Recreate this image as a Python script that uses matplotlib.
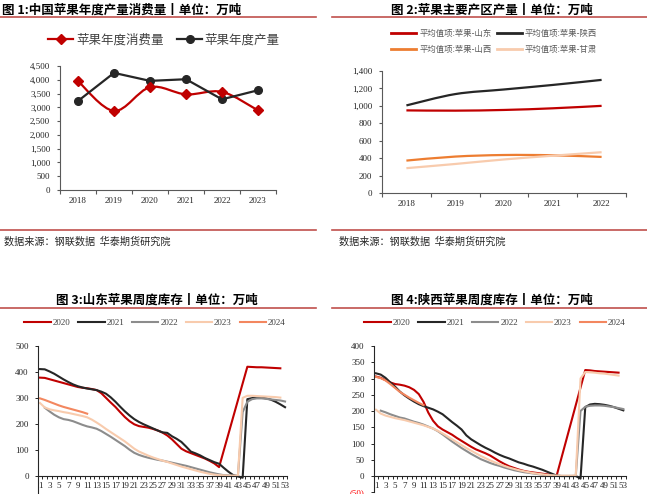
import numpy as np
import matplotlib
matplotlib.use('Agg')
import matplotlib.pyplot as plt
from matplotlib.path import Path
from matplotlib.patches import PathPatch
from matplotlib.lines import Line2D

nan = np.nan

# ---- chart 1: national production / consumption (万吨)
years1 = ['2018', '2019', '2020', '2021', '2022', '2023']
consume = [3950, 2870, 3730, 3470, 3560, 2890]
produce = [3230, 4250, 3960, 4020, 3290, 3620]

# ---- chart 2: main regions
years2 = ['2018', '2019', '2020', '2021', '2022']
shandong = [948, 945, 953, 972, 1000]
shaanxi = [1005, 1135, 1188, 1240, 1298]
shanxi = [372, 418, 436, 433, 414]
gansu = [285, 333, 385, 428, 468]

# ---- chart 3: Shandong weekly stock, weeks 1..53
sd_2020 = [378, 377, 372, 367, 362, 357, 352, 347, 342, 339,
           337, 334, 330, 318, 300, 282, 265, 245, 226, 210,
           198, 191, 188, 185, 180, 174, 166, 155, 140, 122,
           104, 94, 87, 80, 73, 66, 57, 47, 33, nan,
           nan, nan, nan, nan, 420, 419, 418, 418, 417, 416,
           415, 414, nan]
sd_2021 = [411, 410, 402, 393, 382, 371, 361, 352, 345, 340,
           336, 333, 330, 324, 316, 302, 285, 266, 248, 232,
           218, 207, 198, 190, 182, 174, 167, 165, 152, 142,
           130, 112, 93, 86, 78, 68, 60, 52, 46, 30,
           15, 2, -3, -8, 295, 299, 302, 301, 298, 293,
           285, 275, 264]
sd_2022 = [nan, 262, 248, 235, 225, 218, 215, 210, 203, 196,
           190, 186, 181, 172, 161, 150, 138, 126, 114, 100,
           88, 80, 74, 69, 65, 61, 58, 54, 50, 46,
           42, 38, 33, 28, 23, 18, 13, 9, 5, 2,
           1, 0, 0, 245, 285, 295, 298, 298, 296, 294,
           292, 290, 286]
sd_2023 = [280, 263, 256, 252, 249, 245, 242, 238, 234, 230,
           225, 216, 205, 193, 180, 168, 156, 144, 132, 118,
           104, 93, 85, 77, 70, 64, 58, 53, 47, 41,
           35, 30, 25, 20, 15, 11, 7, 4, 2, 1,
           0, 0, 0, 300, 308, 308, 307, 306, 305, 304,
           303, 301, nan]
sd_2024 = [298, 292, 285, 278, 271, 265, 260, 255, 250, 245, 239] + [nan] * 42

# ---- chart 4: Shaanxi weekly stock
sx_2020 = [306, 302, 295, 288, 283, 281, 278, 273, 265, 252,
           228, 195, 170, 153, 143, 135, 127, 117, 108, 99,
           90, 82, 76, 70, 63, 54, 45, 37, 30, 25,
           20, 16, 13, 11, 9, 7, 5, 3, 2, nan,
           nan, nan, nan, nan, 326, 325, 323, 322, 321, 320,
           319, 318, nan]
sx_2021 = [316, 312, 302, 288, 275, 260, 248, 238, 229, 221,
           215, 210, 205, 198, 190, 178, 166, 155, 143, 125,
           113, 104, 95, 87, 80, 72, 65, 59, 54, 48,
           42, 38, 33, 29, 24, 19, 13, 7, 1, 0,
           0, 0, 0, -8, 212, 220, 222, 221, 219, 216,
           212, 207, 202]
sx_2022 = [nan, 201, 196, 190, 185, 180, 177, 172, 167, 163,
           158, 152, 146, 138, 128, 117, 106, 96, 86, 77,
           68, 60, 52, 46, 40, 35, 31, 26, 22, 18,
           15, 12, 10, 8, 6, 4, 3, 2, 1, 0,
           0, 0, 0, 200, 213, 216, 217, 217, 216, 214,
           212, 209, 206]
sx_2023 = [204, 192, 186, 182, 178, 175, 172, 168, 164, 160,
           156, 151, 146, 139, 131, 122, 113, 104, 95, 86,
           78, 70, 62, 55, 48, 42, 36, 31, 26, 22,
           18, 15, 12, 9, 7, 5, 3, 2, 1, 1,
           1, 1, 2, 300, 320, 319, 318, 316, 315, 313,
           311, 309, nan]
sx_2024 = [305, 301, 294, 283, 271, 259, 250, 241, 233, 225, 218] + [nan] * 42

week_labels = ['2020', '2021', '2022', '2023', '2024']

W, H = 647, 494
CJK = 'Noto Sans CJK SC'
SERIF = 'Liberation Serif'
RED = '#C00000'
DARK = '#262626'
GRAY = '#8C8C8C'
PEACH = '#F8CBAD'
ORANGE = '#ED7D31'
SALMON = '#F3875F'
RULE = '#C0504D'
TXT = '#404040'

plt.rcParams['font.family'] = [SERIF, CJK]

fig = plt.figure(figsize=(W / 100, H / 100), dpi=100)


def box(l, t, r, b):
    return fig.add_axes([l / W, 1 - b / H, (r - l) / W, (b - t) / H])


def hline(x0, x1, y):
    fig.add_artist(Line2D([x0 / W, x1 / W], [1 - y / H, 1 - y / H], color=RULE,
                          lw=1.2, transform=fig.transFigure))


def ftext(x, y, s, **kw):
    fig.text(x / W, 1 - y / H, s, **kw)


def smooth_path(x, y):
    # excel-like smoothed line (catmull-rom as bezier)
    pts = np.column_stack([x, y]).astype(float)
    n = len(pts)
    verts = [pts[0]]
    codes = [Path.MOVETO]
    for i in range(n - 1):
        p0 = pts[max(i - 1, 0)]
        p1 = pts[i]
        p2 = pts[i + 1]
        p3 = pts[min(i + 2, n - 1)]
        verts += [p1 + (p2 - p0) / 6, p2 - (p3 - p1) / 6, p2]
        codes += [Path.CURVE4] * 3
    return Path(verts, codes)


def fmt(v):
    return '({:,})'.format(abs(int(v))) if v < 0 else '{:,}'.format(int(v))


def cat_axis(ax, n, ticks):
    ax.set_xlim(-0.5, n - 0.5)
    ax.set_xticks(range(n))
    ax.set_xticks(np.arange(n + 1) - 0.5, minor=True)
    ax.tick_params(axis='x', which='major', length=0, pad=5, labelsize=6.5, labelcolor=DARK)
    ax.tick_params(axis='x', which='minor', length=3, width=0.8, color='#595959', direction='out')
    ax.set_yticks(ticks, labels=[fmt(t) for t in ticks])
    ax.tick_params(axis='y', length=2.5, width=0.8, color='#595959', pad=4.5,
                   labelsize=6.5, labelcolor=DARK)
    for s in ['top', 'right']:
        ax.spines[s].set_visible(False)
    for s in ['left', 'bottom']:
        ax.spines[s].set_color('#595959')
        ax.spines[s].set_linewidth(0.8)


# ================= chart 1
ax1 = box(60, 66, 276, 190)
x1 = np.arange(len(years1))
ax1.add_patch(PathPatch(smooth_path(x1, consume), fill=False, ec=RED, lw=1.6, zorder=3))
ax1.plot(x1, consume, ls='none', marker='D', ms=5, color=RED, zorder=4)
ax1.plot(x1, produce, color=DARK, lw=1.6, marker='o', ms=5.5, zorder=3)
ax1.set_ylim(0, 4500)
cat_axis(ax1, len(years1), range(0, 4501, 500))
ax1.set_xticklabels(years1)
h1 = [Line2D([], [], color=RED, lw=1.6, marker='D', ms=5),
      Line2D([], [], color=DARK, lw=1.6, marker='o', ms=5.5)]
ax1.legend(h1, ['苹果年度消费量', '苹果年度产量'], loc='center',
           bbox_to_anchor=(164 / W, 1 - 40 / H), bbox_transform=fig.transFigure,
           ncol=2, frameon=False, prop={'family': CJK, 'size': 9}, labelcolor=TXT,
           handlelength=2.0, handletextpad=0.2, columnspacing=1.1,
           borderpad=0, borderaxespad=0)

# ================= chart 2
ax2 = box(382, 71, 626, 193)
x2 = np.arange(len(years2))
for vals, col in [(shandong, RED), (shaanxi, DARK), (shanxi, ORANGE), (gansu, PEACH)]:
    ax2.add_patch(PathPatch(smooth_path(x2, vals), fill=False, ec=col, lw=1.6))
ax2.set_ylim(0, 1400)
cat_axis(ax2, len(years2), range(0, 1401, 200))
ax2.set_xticklabels(years2)
h2 = [Line2D([], [], color=c, lw=2) for c in [RED, ORANGE, DARK, PEACH]]
ax2.legend(h2, ['平均值项:苹果-山东', '平均值项:苹果-山西', '平均值项:苹果-陕西', '平均值项:苹果-甘肃'],
           loc='center', bbox_to_anchor=(494 / W, 1 - 41.5 / H), bbox_transform=fig.transFigure,
           ncol=2, frameon=False, prop={'family': CJK, 'size': 6}, labelcolor='#595959',
           handlelength=3.0, handletextpad=0.35, columnspacing=0.6, labelspacing=0.8,
           borderpad=0, borderaxespad=0)


# ================= weekly charts
def weekly(ax, series, ylo, yhi, step, tick_lo):
    weeks = np.arange(1, 54)
    cols = [RED, DARK, GRAY, PEACH, SALMON]
    for vals, col in zip(series, cols):
        y = np.array(vals, dtype=float)
        m = ~np.isnan(y)
        ax.plot(weeks[m], y[m], color=col, lw=1.5)
    ax.set_xlim(0.5, 53.5)
    ax.set_ylim(ylo, yhi)
    ax.spines['bottom'].set_position(('data', 0))
    for s in ['top', 'right']:
        ax.spines[s].set_visible(False)
    for s in ['left', 'bottom']:
        ax.spines[s].set_color(DARK)
        ax.spines[s].set_linewidth(0.8)
    ax.set_xticks(range(1, 54, 2), labels=[str(w) for w in range(1, 54, 2)])
    ax.set_xticks(np.arange(0.5, 54, 1), minor=True)
    ax.tick_params(axis='x', which='major', length=0, pad=4.5, labelsize=6.5, labelcolor=DARK)
    ax.tick_params(axis='x', which='minor', length=2, width=0.7, color=DARK)
    ticks = list(range(tick_lo, yhi + 1, step))
    ax.set_yticks(ticks, labels=[fmt(t) for t in ticks])
    ax.tick_params(axis='y', length=2.5, width=0.7, color=DARK, pad=4,
                   labelsize=6.5, labelcolor=DARK)
    for lbl in ax.get_yticklabels():
        if lbl.get_text().startswith('('):
            lbl.set_color('red')
    h = [Line2D([], [], color=c, lw=1.5) for c in cols]
    return h


ax3 = box(37.7, 346, 287.4, 501.6)
h3 = weekly(ax3, [sd_2020, sd_2021, sd_2022, sd_2023, sd_2024], -100, 500, 100, 0)
ax3.legend(h3, week_labels, loc='center', bbox_to_anchor=(155 / W, 1 - 323.3 / H),
           bbox_transform=fig.transFigure, ncol=5, frameon=False,
           prop={'family': SERIF, 'size': 6.5}, labelcolor=TXT,
           handlelength=2.9, handletextpad=0.2, columnspacing=0.9,
           borderpad=0, borderaxespad=0)

ax4 = box(373.6, 346, 625.7, 492.25)
h4 = weekly(ax4, [sx_2020, sx_2021, sx_2022, sx_2023, sx_2024], -50, 400, 50, -50)
ax4.legend(h4, week_labels, loc='center', bbox_to_anchor=(495 / W, 1 - 323.3 / H),
           bbox_transform=fig.transFigure, ncol=5, frameon=False,
           prop={'family': SERIF, 'size': 6.5}, labelcolor=TXT,
           handlelength=2.9, handletextpad=0.2, columnspacing=0.9,
           borderpad=0, borderaxespad=0)

# ================= titles, rules, sources
tkw = dict(va='center', fontsize=9, fontweight='bold', family=CJK, color='black')
ftext(2, 10.5, '图 1:中国苹果年度产量消费量丨单位：万吨', ha='left', **tkw)
ftext(492, 10.5, '图 2:苹果主要产区产量丨单位：万吨', ha='center', **tkw)
ftext(156.5, 300, '图 3:山东苹果周度库存丨单位：万吨', ha='center', **tkw)
ftext(492, 300, '图 4:陕西苹果周度库存丨单位：万吨', ha='center', **tkw)

hline(0, 316, 16.7)
hline(332, 647, 16.7)
hline(0, 316, 230)
hline(332, 647, 230)
hline(0, 316, 307.7)
hline(332, 647, 307.7)

skw = dict(va='center', ha='left', fontsize=7.3, family=CJK, color=DARK)
ftext(4, 241.5, '数据来源：钢联数据  华泰期货研究院', **skw)
ftext(339, 242, '数据来源：钢联数据  华泰期货研究院', **skw)

fig.savefig('out.png', dpi=100)
